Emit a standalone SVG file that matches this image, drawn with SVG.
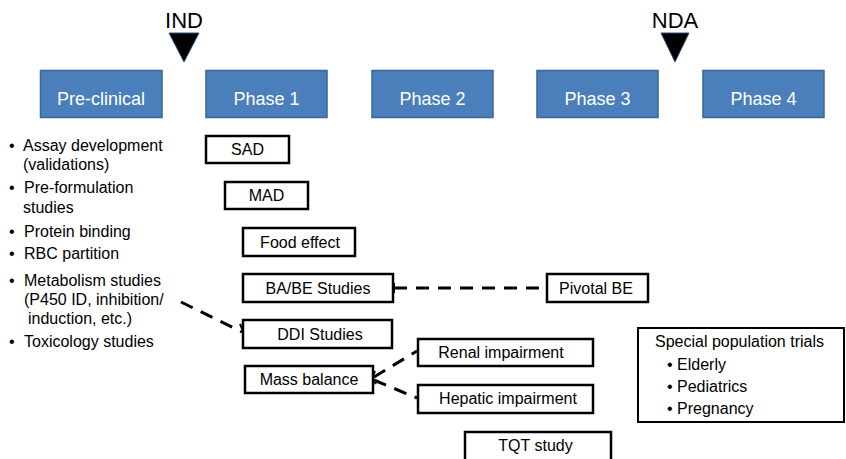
<svg xmlns="http://www.w3.org/2000/svg" width="846" height="459" viewBox="0 0 846 459">
<defs>
<style>
text{font-family:"Liberation Sans",Arial,sans-serif;fill:#000}
.phase rect{fill:#4a7fbb;stroke:#3a679b;stroke-width:1.5}
.phase text{fill:#fff;font-size:18px;text-anchor:middle}
.box rect{fill:#fff;stroke:#000;stroke-width:2.5}
.box text{font-size:16px;text-anchor:middle}
.lst{font-size:16px}
.ms{font-size:22px;text-anchor:middle}
.tri{fill:#000;stroke:#2d4f7a;stroke-width:1}
.dash{fill:none;stroke:#000;stroke-width:3;stroke-dasharray:13 9}
.tick{fill:none;stroke:#000;stroke-width:2}
</style>
</defs>
<g id="ind"><text class="ms" x="184" y="28">IND</text><polygon class="tri" points="169,33 199,33 184,62"/></g>
<g id="nda"><text class="ms" x="675" y="28">NDA</text><polygon class="tri" points="661,33 689,33 675,62"/></g>
<g id="preclinical" class="phase"><rect x="40.5" y="70.5" width="121.5" height="47"/><text x="101" y="105">Pre-clinical</text></g>
<g id="phase1" class="phase"><rect x="206" y="70.5" width="121" height="47"/><text x="266.5" y="105">Phase 1</text></g>
<g id="phase2" class="phase"><rect x="372" y="70.5" width="121" height="47"/><text x="432.5" y="105">Phase 2</text></g>
<g id="phase3" class="phase"><rect x="537" y="70.5" width="121" height="47"/><text x="597.5" y="105">Phase 3</text></g>
<g id="phase4" class="phase"><rect x="703" y="70.5" width="121" height="47"/><text x="763.5" y="105">Phase 4</text></g>
<g id="preclinical-list" class="lst">
<text x="9" y="151">•</text><text x="23" y="151">Assay development</text>
<text x="23" y="170">(validations)</text>
<text x="9" y="193">•</text><text x="24" y="193">Pre-formulation</text>
<text x="23" y="213">studies</text>
<text x="9" y="237">•</text><text x="24" y="237">Protein binding</text>
<text x="9" y="259">•</text><text x="24" y="259">RBC partition</text>
<text x="9" y="286">•</text><text x="24" y="286">Metabolism studies</text>
<text x="24" y="305">(P450 ID, inhibition/</text>
<text x="28" y="324">induction, etc.)</text>
<text x="9" y="347">•</text><text x="24" y="347">Toxicology studies</text>
</g>
<g id="connectors">
<path class="dash" d="M394,288 H546"/>
<path class="tick" d="M394,283 V293 M547,281 V290"/>
<path class="dash" d="M181,302 L242,332"/>
<path class="tick" d="M240,324 L244,333"/>
<path class="dash" d="M374,377 L417,351"/>
<path class="dash" d="M374,380 L417,398"/>
<path class="tick" d="M375,371 L372,378 L376,384"/>
</g>
<g id="sad" class="box"><rect x="206" y="136" width="83" height="27"/><text x="247.5" y="155">SAD</text></g>
<g id="mad" class="box"><rect x="225" y="182" width="83" height="27"/><text x="266.5" y="201">MAD</text></g>
<g id="food" class="box"><rect x="243" y="228" width="112" height="28"/><text x="300" y="248">Food effect</text></g>
<g id="babe" class="box"><rect x="243" y="274" width="150" height="28"/><text x="318" y="294">BA/BE Studies</text></g>
<g id="pivotal" class="box"><rect x="547" y="274" width="101" height="28"/><text x="596" y="294">Pivotal BE</text></g>
<g id="ddi" class="box"><rect x="243" y="320" width="149" height="28"/><text x="320" y="340">DDI Studies</text></g>
<g id="mass" class="box"><rect x="245" y="366" width="128" height="27"/><text x="309" y="385">Mass balance</text></g>
<g id="renal" class="box"><rect x="418" y="339" width="175" height="27"/><text x="501" y="358">Renal impairment</text></g>
<g id="hepatic" class="box"><rect x="418" y="385" width="175" height="28"/><text x="508" y="404">Hepatic impairment</text></g>
<g id="tqt" class="box"><rect x="465" y="432" width="146" height="30"/><text x="535.5" y="451">TQT study</text></g>
<g id="special"><rect x="638" y="328" width="206" height="94" fill="#fff" stroke="#000" stroke-width="2"/>
<text class="lst" x="655" y="347">Special population trials</text>
<text class="lst" x="667" y="370">• Elderly</text>
<text class="lst" x="667" y="392">• Pediatrics</text>
<text class="lst" x="667" y="414">• Pregnancy</text>
</g>
</svg>
